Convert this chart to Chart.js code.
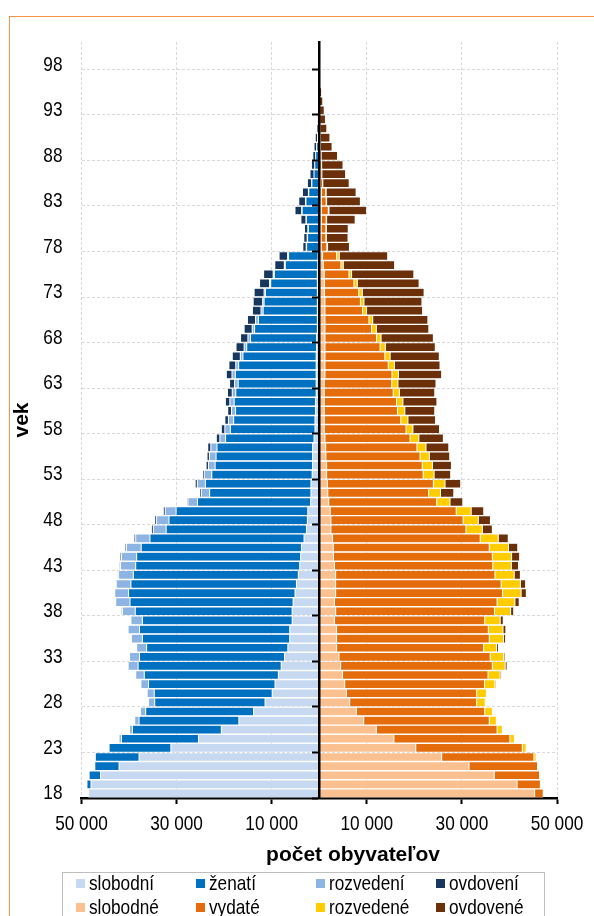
<!DOCTYPE html>
<html>
<head>
<meta charset="utf-8">
<script src="https://cdn.jsdelivr.net/npm/chart.js@4.4.0/dist/chart.umd.min.js"></script>
<style>
  html, body { margin: 0; padding: 0; background: #fff; }
  #wrap { position: relative; width: 594px; height: 916px; overflow: hidden; }
  #frame { position: absolute; left: 9px; top: 16px; width: 700px; height: 1000px;
           border-left: 1.5px solid #F79646; border-top: 1.5px solid #F79646; }
  #c { position: absolute; left: 0; top: 0; }
  #xtitle { position: absolute; left: 253px; top: 842px; width: 200px; text-align: center;
            font: bold 21px "Liberation Sans", Arial, sans-serif; line-height: 24px; color: #000; }
  #legend { position: absolute; left: 62px; top: 872px; width: 481px; height: 70px;
            border: 1px solid #BFBFBF; background: #fff; }
  .item { position: absolute; height: 24px; line-height: 24px; white-space: nowrap;
          font: 21px "Liberation Sans", Arial, sans-serif; color: #000; }
  .sw { position: absolute; left: 0; top: 8px; width: 9px; height: 9px; }
  .tx { position: absolute; left: 13px; top: 0; transform: scaleX(0.82); transform-origin: 0 50%; }
</style>
</head>
<body>
<div id="wrap">
  <div id="frame"></div>
  <canvas id="c" width="594" height="916"></canvas>
  <div id="xtitle">počet obyvateľov</div>
  <div id="legend"></div>
</div>
<script>
// vek (kategórie)
const ages = [18,19,20,21,22,23,24,25,26,27,28,29,30,31,32,33,34,35,36,37,38,39,40,41,42,43,44,45,46,47,
  48,49,50,51,52,53,54,55,56,57,58,59,60,61,62,63,64,65,66,67,68,69,70,71,72,73,74,75,76,77,
  78,79,80,81,82,83,84,85,86,87,88,89,90,91,92,93,94,95,96,97,98,99,100];

// muži
const menSingle = [48500,48000,46000,42100,37900,31200,25400,20600,16900,13800,
  11400,9900,9300,8600,8000,7300,6600,6200,6200,5700,
  5700,5500,5100,4800,4400,4100,3900,3750,3200,2700,
  2500,2400,1800,1750,1750,1500,1400,1400,1400,1100,
  900,900,800,800,650,650,650,650,650,550,
  550,400,400,400,400,400,400,400,300,250,
  150,150,150,150,150,150,150,100,100,100,
  100,100,100,50,50,50,50,50,0,0,
  0,0,0];
const menMarried = [200,850,2400,5100,9200,13000,16200,18700,21000,22700,
  23200,24800,26600,28200,30100,30500,29700,31000,31600,31500,
  33000,34300,35000,34800,34700,34500,34500,33700,32400,29500,
  29100,27700,23800,21300,22200,21100,20500,20300,20100,18600,
  17800,17100,16800,17100,16900,16400,17000,16300,15400,14700,
  13900,13200,12400,11400,11200,10900,9800,9050,6850,6200,
  2500,2300,2150,2550,3450,2650,2050,1450,1000,850,
  650,450,250,150,100,50,0,0,0,0,
  0,0,0];
const menDivorced = [0,0,0,0,0,150,500,600,900,1100,
  1300,1500,1600,1800,2100,2100,2100,2300,2400,2400,
  2700,3000,2900,3100,3100,3200,3200,3100,3000,2700,
  2600,2300,2000,1750,1700,1600,1400,1400,1300,1200,
  1150,1100,850,900,750,750,700,600,550,550,
  550,500,600,450,300,300,250,250,200,200,
  100,100,100,100,100,100,80,50,0,0,
  0,0,0,0,0,0,0,0,0,0,
  0,0,0];
const menWidowed = [0,0,0,0,0,0,0,0,0,0,
  0,0,0,0,0,0,0,0,0,0,
  250,100,100,100,250,250,300,300,350,400,
  400,400,250,350,450,350,500,500,650,750,
  750,750,800,950,1000,1050,1200,1450,1700,1700,
  1550,1700,1700,1800,2000,2100,2100,2000,2000,1800,
  700,700,700,1050,1400,1400,1250,900,850,700,
  600,550,500,350,250,150,100,50,0,0,
  0,0,0];

// ženy
const womenSingle = [45300,41600,36800,31500,25750,20300,15700,12000,9350,7800,
  6400,5700,5350,4900,4500,4150,3650,3650,3650,3200,
  3450,3200,3450,3450,3450,3200,3000,2950,2800,2450,
  2450,2300,2000,1800,1700,1550,1550,1400,1350,1200,
  1050,1050,1050,1050,1050,1050,1200,1200,1200,1200,
  1200,1200,1200,1200,1200,1100,1100,1050,850,700,
  400,400,400,450,450,450,450,200,150,100,
  100,50,50,0,0,0,0,0,0,0,
  0,0,0];
const womenMarried = [1800,4900,9550,14400,19400,22400,24400,25400,26400,27000,
  26700,27400,29400,30600,31900,31800,30900,32100,31900,31600,
  33400,34200,35100,34800,33500,33300,33400,32800,31050,28400,
  27800,26500,22700,21200,22300,20300,20100,19800,19200,17900,
  17200,16100,15400,15200,14500,14200,14100,13300,12600,11600,
  10850,9800,9250,7900,7450,7200,6200,5200,3700,2950,
  1200,1000,1000,1000,1450,1000,900,500,400,400,
  300,200,150,150,100,100,50,0,0,0,
  0,0,0];
const womenDivorced = [0,20,50,200,450,800,950,1100,1500,1600,
  1800,2050,2200,2550,2700,2850,2750,3000,3100,3250,
  3400,3750,3900,4050,4050,3900,4050,4050,3800,3450,
  3200,3150,2800,2500,2450,2300,2150,1950,1900,1850,
  1450,1500,1550,1350,1300,1300,1350,1300,1100,1100,
  950,1000,800,850,750,750,700,550,500,550,
  150,100,100,100,150,100,100,50,0,0,
  0,0,0,0,0,0,0,0,0,0,
  0,0,0];
const womenWidowed = [0,0,0,0,0,0,0,0,0,0,
  50,100,250,300,400,300,400,450,600,650,
  650,900,1100,1100,1300,1500,1700,1950,2100,2100,
  2550,2650,2700,2800,3300,3500,4000,4300,4800,5150,
  5600,5800,6300,7150,7450,8000,9100,9600,10350,10500,
  11000,11050,11600,11800,12200,13000,13000,13100,10800,10200,
  4600,4550,4600,6000,7900,7100,6300,5550,5000,4500,
  3450,2450,2050,1450,1200,950,700,500,200,100,
  50,30,20];

// popisy osí
const xTicks = [-50000, -30000, -10000, 10000, 30000, 50000];
const yTickAges = [18,23,28,33,38,43,48,53,58,63,68,73,78,83,88,93,98];

const SANS = '"Liberation Sans", Arial, sans-serif';
const NONE = 'rgba(0,0,0,0)';

const fmt = v => String(Math.abs(v)).replace(/\B(?=(\d{3})+(?!\d))/g, ' ');
const labelled = i => yTickAges.includes(ages[i]);

// úzke písmo (ako Arial Narrow) - text stlačený na 82 %
function narrowText(ctx, text, x, y) {
  ctx.save();
  ctx.translate(x, y);
  ctx.scale(0.82, 1);
  ctx.fillText(text, 0, 0);
  ctx.restore();
}
const narrowLabels = {
  id: 'narrowLabels',
  afterDraw(chart) {
    const ctx = chart.ctx;
    const sx = chart.scales.x, sy = chart.scales.y;
    ctx.save();
    ctx.fillStyle = '#000';
    ctx.font = '21px ' + SANS;
    ctx.textBaseline = 'middle';
    ctx.textAlign = 'center';
    sx.ticks.forEach((t, i) => narrowText(ctx, t.label, sx.getPixelForTick(i), sx.top + 26));
    ctx.textAlign = 'right';
    sy.ticks.forEach((t, i) => { if (t.label) narrowText(ctx, t.label, sy.right - 19, sy.getPixelForTick(i)); });
    ctx.restore();
  }
};

const bar = (label, data, color) => ({
  label: label, data: data, backgroundColor: color,
  borderColor: '#fff', borderWidth: 0.5, borderSkipped: false,
  barPercentage: 0.95, categoryPercentage: 1, stack: 's', yAxisID: 'y'
});
const neg = arr => arr.map(v => -v);

const chart = new Chart(document.getElementById('c').getContext('2d'), {
  type: 'bar',
  data: {
    labels: ages,
    datasets: [
      bar('slobodní', neg(menSingle), '#C6D9F1'),
      bar('ženatí', neg(menMarried), '#0070C0'),
      bar('rozvedení', neg(menDivorced), '#8DB4E2'),
      bar('ovdovení', neg(menWidowed), '#17375E'),
      bar('slobodné', womenSingle, '#FAC090'),
      bar('vydaté', womenMarried, '#E46C0A'),
      bar('rozvedené', womenDivorced, '#FFCC00'),
      bar('ovdovené', womenWidowed, '#6B300A')
    ]
  },
  options: {
    indexAxis: 'y',
    responsive: false,
    devicePixelRatio: 1,
    animation: false,
    layout: { padding: { top: 42, right: 37, bottom: 0, left: 0 } },
    plugins: { legend: { display: false }, tooltip: { enabled: false } },
    scales: {
      y: {
        type: 'category',
        reverse: true,
        stacked: true,
        offset: true,
        afterFit: s => { s.width = 81.5; },
        grid: {
          offset: true,
          drawTicks: false,
          lineWidth: 1,
          color: ctx => (ctx.tick && labelled(ctx.index) && ages[ctx.index] !== 18) ? '#D9D9D9' : NONE
        },
        border: { display: false, dash: [3, 2] },
        ticks: {
          display: false,
          autoSkip: false,
          callback: (v, i) => labelled(i) ? String(ages[i]) : ''
        },
        title: {
          display: true, text: 'vek', color: '#000',
          font: { family: SANS, size: 21, weight: 'bold' },
          padding: { top: 10, bottom: 0 }
        }
      },
      yc: {
        axis: 'y',
        type: 'category',
        position: { x: 0 },
        reverse: true,
        offset: true,
        grid: {
          offset: true,
          drawOnChartArea: false,
          tickLength: 6,
          tickWidth: 2,
          tickColor: ctx => (ctx.tick && labelled(ctx.index)) ? '#000' : NONE,
          z: 1
        },
        border: { display: true, color: '#000', width: 2.5, z: 1 },
        ticks: { display: false, autoSkip: false }
      },
      x: {
        type: 'linear',
        min: -50000,
        max: 50000,
        stacked: true,
        afterBuildTicks: s => { s.ticks = xTicks.map(v => ({ value: v })); },
        afterFit: s => { s.height = 118; },
        grid: { color: '#D9D9D9', lineWidth: 1, tickColor: '#000', tickWidth: 2, tickLength: 6 },
        border: { display: true, color: '#000', width: 2.5, dash: [3, 2] },
        ticks: { display: false, autoSkip: false, callback: v => fmt(v) }
      }
    }
  },
  plugins: [narrowLabels]
});

// legenda 4 x 2
const legend = document.getElementById('legend');
chart.data.datasets.forEach((ds, i) => {
  const it = document.createElement('div');
  it.className = 'item';
  it.style.left = (13 + (i % 4) * 120) + 'px';
  it.style.top = (-2 + Math.floor(i / 4) * 24) + 'px';
  it.innerHTML = '<span class="sw" style="background:' + ds.backgroundColor + '"></span><span class="tx">' + ds.label + '</span>';
  legend.appendChild(it);
});
</script>
</body>
</html>
